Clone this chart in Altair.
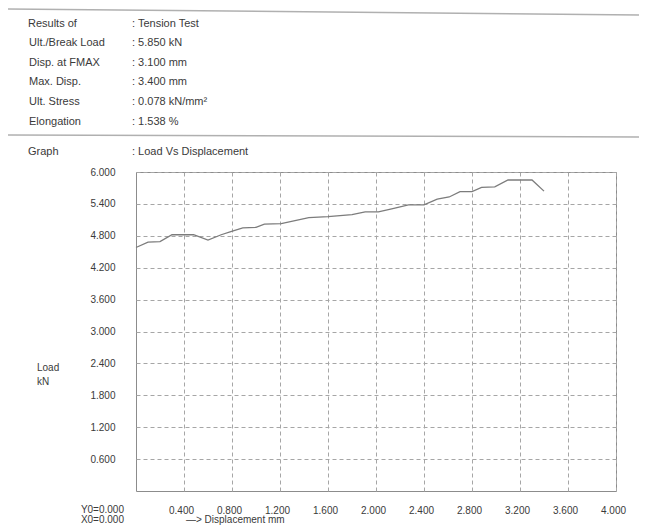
import altair as alt
import pandas as pd

# ---- data ----
disp = [0.00, 0.10, 0.20, 0.30, 0.48, 0.60, 0.71, 0.79, 0.89, 1.00, 1.07, 1.21,
        1.44, 1.60, 1.80, 1.91, 2.02, 2.14, 2.27, 2.40, 2.51, 2.61, 2.70, 2.80,
        2.88, 2.99, 3.10, 3.30, 3.40]
load = [4.58, 4.68, 4.69, 4.82, 4.82, 4.72, 4.82, 4.88, 4.95, 4.96, 5.02, 5.03,
        5.14, 5.16, 5.20, 5.25, 5.25, 5.31, 5.38, 5.38, 5.49, 5.53, 5.63, 5.63,
        5.71, 5.72, 5.85, 5.85, 5.64]
x_ticks = [0.4, 0.8, 1.2, 1.6, 2.0, 2.4, 2.8, 3.2, 3.6, 4.0]
y_ticks = [0.6, 1.2, 1.8, 2.4, 3.0, 3.6, 4.2, 4.8, 5.4, 6.0]

head_labels = ["Results of", "Ult./Break Load", "Disp. at FMAX", "Max. Disp.",
               "Ult. Stress", "Elongation"]
head_values = [": Tension Test", ": 5.850  kN", ": 3.100  mm", ": 3.400  mm",
               ": 0.078  kN/mm\u00b2", ": 1.538  %"]

TXT = "#3a3a3a"
FONT = "Liberation Sans"
TICKFONT = "Liberation Sans"

df = pd.DataFrame({"disp": disp, "load": load})

line = alt.Chart(df).mark_line(color="#7c7c7c", strokeWidth=1.3).encode(
    x=alt.X("disp:Q",
            scale=alt.Scale(domain=[0, 4], nice=False),
            axis=alt.Axis(values=x_ticks, format=".3f", title=None, grid=True,
                          gridDash=[4, 3], gridColor="#a6a6a6", gridWidth=1,
                          ticks=False, domain=False, labelPadding=14,
                          labelFlush=False, labelOffset=-3,
                          labelFont=TICKFONT, labelFontSize=10, labelColor=TXT)),
    y=alt.Y("load:Q",
            scale=alt.Scale(domain=[0, 6], nice=False),
            axis=alt.Axis(values=y_ticks, format=".3f", title=None, grid=True,
                          gridDash=[4, 3], gridColor="#a6a6a6", gridWidth=1,
                          ticks=False, domain=False, labelPadding=21,
                          labelFlush=False,
                          labelFont=TICKFONT, labelFontSize=10, labelColor=TXT)),
)


def txt(s, x, y, size=11, font=FONT, align="left"):
    return alt.Chart(pd.DataFrame({"t": [s]})).mark_text(
        align=align, baseline="middle", font=font, fontSize=size, color=TXT
    ).encode(text="t:N", x=alt.value(x), y=alt.value(y))


def rule(x1, x2, y1, y2):
    return alt.Chart(pd.DataFrame({"a": [0]})).mark_rule(
        color="#b0b0b0", strokeWidth=1.5
    ).encode(x=alt.value(x1), x2=alt.value(x2), y=alt.value(y1), y2=alt.value(y2))


layers = [line]
row_y = [-148, -129, -109, -90, -70, -50]
for i, (lab, val) in enumerate(zip(head_labels, head_values)):
    layers.append(txt(lab, -108 if i == 0 else -107, row_y[i]))
    layers.append(txt(val, -4, row_y[i]))

layers.append(txt("Graph", -108, -20))
layers.append(txt(": Load Vs Displacement", -4, -20))
layers.append(rule(-128, 511, -163, -157))
layers.append(rule(-128, 511, -37, -35))
layers.append(txt("Load", -99, 196, size=10, font=TICKFONT))
layers.append(txt("kN", -99, 210, size=10, font=TICKFONT))
layers.append(txt("Y0=0.000", -12, 338, size=10, font=TICKFONT, align="right"))
layers.append(txt("X0=0.000", -12, 348, size=10, font=TICKFONT, align="right"))
layers.append(txt("\u2014> Displacement mm", 50, 348, size=10, font=TICKFONT))

chart = alt.layer(*layers).properties(
    width=480, height=319,
    padding={"left": 128, "top": 164, "right": 23, "bottom": 34},
    autosize=alt.AutoSizeParams(type="none"),
    background="white",
).configure_view(stroke="#8c8c8c", strokeWidth=1)

chart.save("out.html", embed_options={"renderer": "svg", "actions": False})
